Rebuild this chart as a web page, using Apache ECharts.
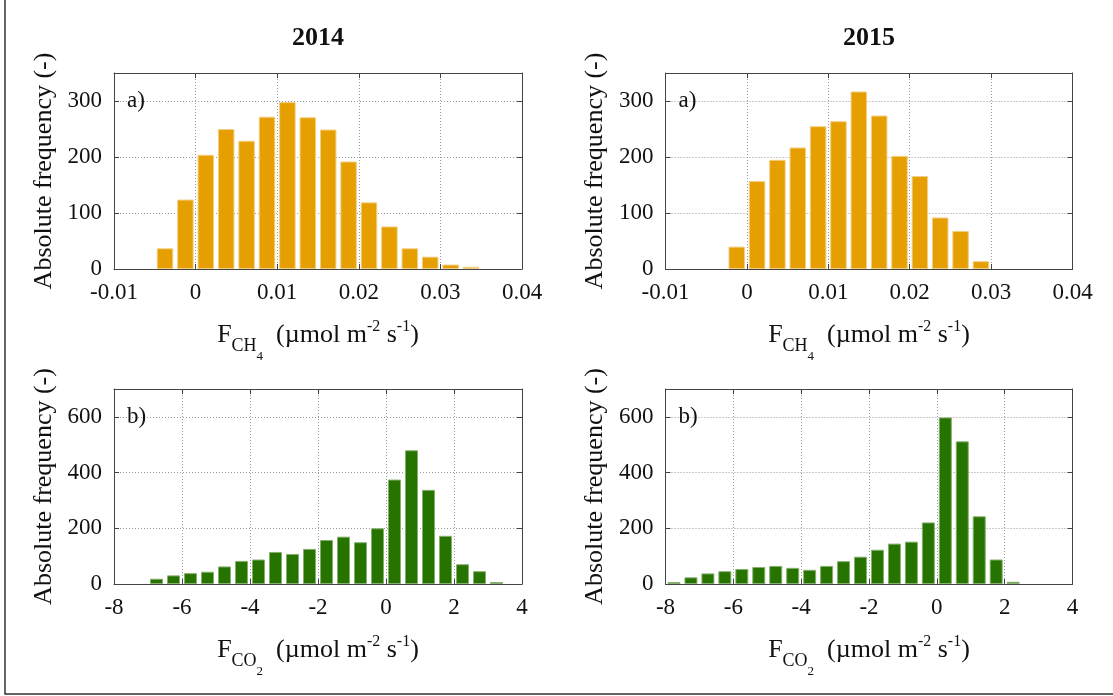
<!DOCTYPE html>
<html>
<head>
<meta charset="utf-8">
<script src="https://cdn.jsdelivr.net/npm/echarts@6/dist/echarts.min.js"></script>
<style>
  html, body { margin: 0; padding: 0; background: #fff; }
  #chart { width: 1113px; height: 696px; }
</style>
</head>
<body>
<div id="chart"></div>
<script>
// Histogram bin centres and absolute frequencies
const ch4Bins2014 = [-0.00375, -0.00125, 0.00125, 0.00375, 0.00625, 0.00875, 0.01125, 0.01375,
                     0.01625, 0.01875, 0.02125, 0.02375, 0.02625, 0.02875, 0.03125, 0.03375];
const ch4Counts2014 = [37, 124, 204, 250, 229, 272, 298, 271, 249, 192, 119, 76, 37, 22, 8, 4];

const ch4Bins2015 = [-0.00125, 0.00125, 0.00375, 0.00625, 0.00875, 0.01125, 0.01375,
                     0.01625, 0.01875, 0.02125, 0.02375, 0.02625, 0.02875];
const ch4Counts2015 = [40, 157, 195, 217, 255, 264, 317, 274, 202, 166, 92, 68, 14];

const co2Bins2014 = [-6.75, -6.25, -5.75, -5.25, -4.75, -4.25, -3.75, -3.25, -2.75, -2.25, -1.75,
                     -1.25, -0.75, -0.25, 0.25, 0.75, 1.25, 1.75, 2.25, 2.75, 3.25];
const co2Counts2014 = [19, 31, 39, 44, 63, 83, 88, 115, 108, 126, 158, 170, 150, 200, 375, 480,
                       338, 173, 71, 46, 7];

const co2Bins2015 = [-7.75, -7.25, -6.75, -6.25, -5.75, -5.25, -4.75, -4.25, -3.75, -3.25, -2.75,
                     -2.25, -1.75, -1.25, -0.75, -0.25, 0.25, 0.75, 1.25, 1.75, 2.25];
const co2Counts2015 = [7, 24, 38, 46, 54, 61, 65, 58, 51, 65, 82, 98, 123, 145, 152, 221, 598,
                       512, 243, 88, 8];

// Tick labels
const ch4TickLabels = ['-0.01', '0', '0.01', '0.02', '0.03', '0.04'];
const co2TickLabels = ['-8', '-6', '-4', '-2', '0', '2', '4'];
const yearTitles = ['2014', '2015'];
const panelTags = ['a)', 'b)'];
const yName = 'Absolute frequency (-)';

const FONT = '"Liberation Serif", "DejaVu Serif", serif';
const TXT = '#111';
const ORANGE = '#E69F00';
const GREEN = '#267300';

const grids = [
  { left: 114, top: 73, width: 408, height: 196 },
  { left: 665.5, top: 73, width: 407, height: 196 },
  { left: 114, top: 389, width: 408, height: 195 },
  { left: 665.5, top: 389, width: 407, height: 195 }
];

const panels = [
  { bins: ch4Bins2014, counts: ch4Counts2014, kind: 'ch4' },
  { bins: ch4Bins2015, counts: ch4Counts2015, kind: 'ch4' },
  { bins: co2Bins2014, counts: co2Counts2014, kind: 'co2' },
  { bins: co2Bins2015, counts: co2Counts2015, kind: 'co2' }
];

const axisSpec = {
  ch4: { xmin: -0.01, xmax: 0.04, xint: 0.01, ymax: 350, yint: 100, labels: ch4TickLabels,
         sub: 'CH', subN: '4', color: ORANGE, edge: '#f2cf85', barWidth: 16.5 },
  co2: { xmin: -8, xmax: 4, xint: 2, ymax: 700, yint: 200, labels: co2TickLabels,
         sub: 'CO', subN: '2', color: GREEN, edge: '#86b070', barWidth: 13 }
};

// Rich text pieces for the flux axis names: main text, subscript, sub-subscript, superscript
const richName = {
  m:  { fontFamily: FONT, fontSize: 26, color: TXT, lineHeight: 60, verticalAlign: 'middle' },
  s1: { fontFamily: FONT, fontSize: 18, color: TXT, lineHeight: 18, verticalAlign: 'bottom', padding: [0, 0, 10, 0] },
  s2: { fontFamily: FONT, fontSize: 13, color: TXT, lineHeight: 13, verticalAlign: 'bottom', padding: [0, 0, 2, 0] },
  sp: { fontFamily: FONT, fontSize: 16, color: TXT, lineHeight: 16, verticalAlign: 'top', padding: [14, 0, 0, 0] }
};

function labelFor(list, v) {
  const hit = list.find(l => Math.abs(parseFloat(l) - v) < 1e-9);
  return hit === undefined ? '' : hit;
}

const frameLine = { show: true, onZero: false, lineStyle: { color: '#444', width: 1 } };
const innerTick = { show: true, inside: true, length: 5, lineStyle: { color: '#444' } };
const dotted = { show: true, lineStyle: { color: '#9a9a9a', type: [1, 2], width: 1 } };

const xAxes = [], yAxes = [], series = [];
panels.forEach((p, i) => {
  const s = axisSpec[p.kind];
  const base = { type: 'value', gridIndex: i, min: s.xmin, max: s.xmax, interval: s.xint };
  xAxes.push(Object.assign({}, base, {
    position: 'bottom',
    axisLine: frameLine, axisTick: innerTick, splitLine: dotted,
    axisLabel: { fontFamily: FONT, fontSize: 23, color: TXT, margin: 12,
                 formatter: v => labelFor(s.labels, v) },
    name: '{m|F}{s1|' + s.sub + '}{s2|' + s.subN + '}{m|\u2002(µmol m}{sp|-2}{m| s}{sp|-1}{m|)}',
    nameLocation: 'middle', nameGap: 22,
    nameTextStyle: { fontFamily: FONT, fontSize: 26, color: TXT, rich: richName }
  }));
  xAxes.push(Object.assign({}, base, {
    position: 'top',
    axisLine: frameLine, axisTick: innerTick, splitLine: { show: false },
    axisLabel: { show: false }
  }));
  const ybase = { type: 'value', gridIndex: i, min: 0, max: s.ymax, interval: s.yint };
  yAxes.push(Object.assign({}, ybase, {
    position: 'left',
    axisLine: frameLine, axisTick: innerTick, splitLine: dotted,
    axisLabel: { fontFamily: FONT, fontSize: 23, color: TXT, margin: 12, showMaxLabel: false },
    name: yName, nameLocation: 'middle', nameGap: 57,
    nameTextStyle: { fontFamily: FONT, fontSize: 26, color: TXT }
  }));
  yAxes.push(Object.assign({}, ybase, {
    position: 'right',
    axisLine: frameLine, axisTick: innerTick, splitLine: { show: false },
    axisLabel: { show: false }
  }));
  series.push({
    type: 'bar',
    xAxisIndex: i * 2,
    yAxisIndex: i * 2,
    barWidth: s.barWidth,
    itemStyle: { color: s.color, borderColor: s.edge, borderWidth: 1 },
    data: p.bins.map((b, k) => [b, p.counts[k]]),
    silent: true,
    animation: false
  });
});

const graphic = [
  // outer figure frame
  { type: 'rect', shape: { x: 5, y: -10, width: 1200, height: 704 },
    style: { fill: 'none', stroke: '#333', lineWidth: 1.5 }, z: 10 }
];
yearTitles.forEach((t, c) => {
  const g = grids[c];
  graphic.push({ type: 'text', x: g.left + g.width / 2, y: 38,
    style: { text: t, fontFamily: FONT, fontSize: 26, fontWeight: 'bold', fill: TXT,
             textAlign: 'center', textVerticalAlign: 'middle' } });
});
grids.forEach((g, i) => {
  graphic.push({ type: 'text', x: g.left + 13, y: g.top + 28,
    style: { text: panelTags[i < 2 ? 0 : 1], fontFamily: FONT, fontSize: 23, fill: TXT,
             textAlign: 'left', textVerticalAlign: 'middle' }, z: 5 });
});

const chart = echarts.init(document.getElementById('chart'), null, { renderer: 'canvas' });
chart.setOption({
  animation: false,
  backgroundColor: '#fff',
  grid: grids,
  xAxis: xAxes,
  yAxis: yAxes,
  series: series,
  graphic: graphic
});
</script>
</body>
</html>
